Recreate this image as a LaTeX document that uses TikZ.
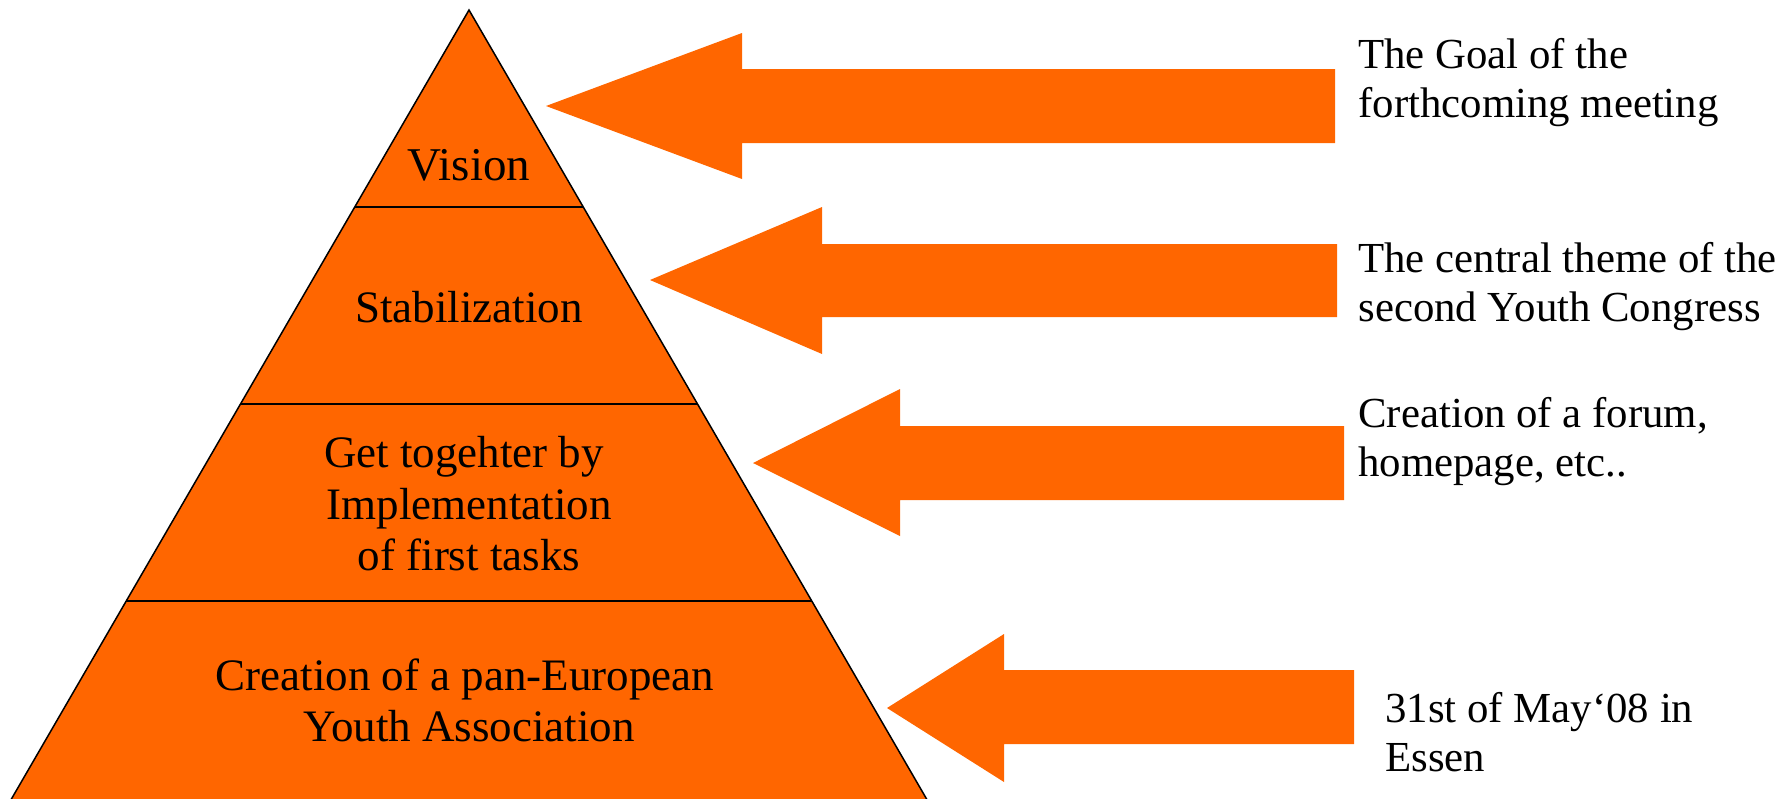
\documentclass[tikz,border=0pt]{standalone}
\usepackage{fontspec}
\setmainfont{Liberation Serif}
\definecolor{pyor}{RGB}{255,102,0}
\begin{document}
\begin{tikzpicture}[x=0.5pt,y=-0.5pt,
  pyrfill/.style={fill=pyor, draw=black, line width=0.75pt, line join=miter},
  layerline/.style={draw=black, line width=1pt},
  bigarrow/.style={fill=pyor, draw=none},
  pyrtext/.style={anchor=base, inner sep=0pt, font=\fontsize{22.5pt}{25.5pt}\selectfont},
  sidetext/.style={anchor=base west, inner sep=0pt, font=\fontsize{21.4pt}{24.5pt}\selectfont}]
\useasboundingbox (0,0) rectangle (1791,798);
\begin{scope}
\clip (0,0) rectangle (1791,798);
% pyramid
\path[pyrfill] (469,10) -- (932.4,809) -- (5.6,809) -- cycle;
\coordinate (l1a) at (354.7,207); \coordinate (l1b) at (583.3,207);
\coordinate (l2a) at (240.5,404); \coordinate (l2b) at (697.5,404);
\coordinate (l3a) at (126.2,601); \coordinate (l3b) at (811.8,601);
\draw[layerline] (l1a) -- (l1b);
\draw[layerline] (l2a) -- (l2b);
\draw[layerline] (l3a) -- (l3b);
\end{scope}
% pyramid labels
\node[pyrtext, font=\fontsize{23.5pt}{25.5pt}\selectfont] (vision) at (469,180) {Vision};
\node[pyrtext] (stab) at (469,322) {Stabilization};
\node[pyrtext] (get1) at (464,467) {Get togehter by};
\node[pyrtext] (get2) at (469,519) {Implementation};
\node[pyrtext] (get3) at (469,570) {of first tasks};
\node[pyrtext] (cre1) at (465,690) {Creation of a pan-European};
\node[pyrtext] (cre2) at (469,741) {Youth Association};
% arrows
\path[bigarrow] (546,106) -- (742,33) -- (742,69) -- (1335,69) -- (1335,143) -- (742,143) -- (742,179) -- cycle;
\path[bigarrow] (650,280) -- (822,207) -- (822,244) -- (1337,244) -- (1337,317) -- (822,317) -- (822,354) -- cycle;
\path[bigarrow] (753,463) -- (900,389) -- (900,426) -- (1344,426) -- (1344,500) -- (900,500) -- (900,536) -- cycle;
\path[bigarrow] (887,708) -- (1004,634) -- (1004,670) -- (1354,670) -- (1354,744) -- (1004,744) -- (1004,782) -- cycle;
% side texts
\node[sidetext] (t1a) at (1358,68) {The Goal of the};
\node[sidetext] (t1b) at (1358,117) {forthcoming meeting};
\node[sidetext] (t2a) at (1358,272) {The central theme of the};
\node[sidetext] (t2b) at (1358,321) {second Youth Congress};
\node[sidetext] (t3a) at (1358,427) {Creation of a forum,};
\node[sidetext] (t3b) at (1358,476) {homepage, etc..};
\node[sidetext] (t4a) at (1385,722) {31st of May‘08 in};
\node[sidetext] (t4b) at (1385,771) {Essen};
\end{tikzpicture}
\end{document}
